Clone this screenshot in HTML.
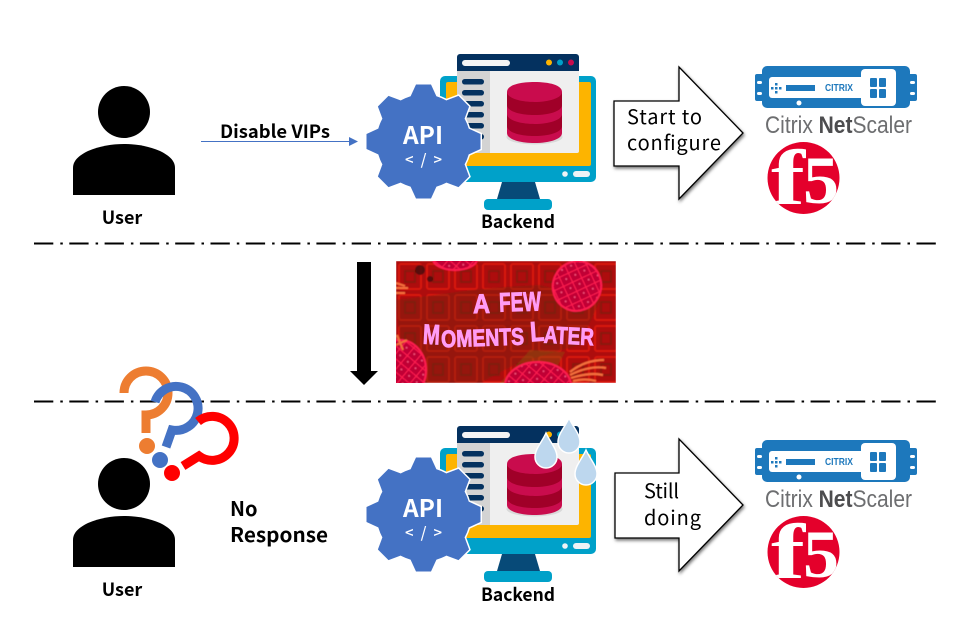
<!DOCTYPE html>
<html><head><meta charset="utf-8"><style>
html,body{margin:0;padding:0;background:#fff}
svg{display:block}
text{font-family:"Noto Sans CJK KR","Liberation Sans",sans-serif}
.b{font-weight:700;font-size:18px;fill:#000}
.n{font-size:20px;fill:#000}
.p{font-family:"Liberation Sans",sans-serif;font-weight:700;fill:#ff9cf5;stroke:#ff9cf5;stroke-width:.9}
</style></head><body>
<svg width="980" height="634" viewBox="0 0 980 634" xmlns="http://www.w3.org/2000/svg">
<defs>
<filter id="sh" x="-20%" y="-20%" width="140%" height="140%"><feDropShadow dx="1" dy="2" stdDeviation="1.5" flood-color="#000" flood-opacity=".55"/></filter>
<filter id="bl" x="-5%" y="-5%" width="110%" height="110%"><feGaussianBlur stdDeviation=".6"/></filter>
<clipPath id="ic"><rect x="396" y="261" width="220" height="122"/></clipPath>
<clipPath id="c1"><circle cx="803.500" cy="178" r="36"/></clipPath>
<clipPath id="c2"><circle cx="803.500" cy="552" r="36"/></clipPath>
<pattern id="pg" width="10" height="10" patternUnits="userSpaceOnUse" patternTransform="rotate(40)"><rect width="10" height="10" fill="#c00035"/><path d="M0 0H10M0 0V10" stroke="#ff1f50" stroke-width="2.200"/><circle cx="5" cy="5" r=".9" fill="#ff5f8c"/></pattern>
<pattern id="tile" width="28" height="31" patternUnits="userSpaceOnUse" x="396" y="261"><rect width="28" height="31" fill="#ad0c0a"/><rect x="3" y="3" width="22" height="25" rx="2" fill="none" stroke="#d81410" stroke-width="2"/><rect x="9" y="10" width="10" height="11" fill="none" stroke="#8a1208" stroke-width="2"/></pattern>
<g id="tooth"><path d="M-13 -45 L-7.500 -57 H7.500 L13 -45Z"/></g>
<g id="gearshape">
<circle r="47"/>
<use href="#tooth"/><use href="#tooth" transform="rotate(45)"/><use href="#tooth" transform="rotate(90)"/><use href="#tooth" transform="rotate(135)"/><use href="#tooth" transform="rotate(180)"/><use href="#tooth" transform="rotate(225)"/><use href="#tooth" transform="rotate(270)"/><use href="#tooth" transform="rotate(315)"/>
</g>
<g id="user">
<circle cx="124" cy="112" r="26"/>
<path d="M73 195V168C73 160 80 155 88 151C100 146 112 144 124 144C136 144 148 146 160 151C168 155 175 160 175 168V195Z"/>
</g>
<g id="monitor">
<rect x="440" y="76" width="156" height="106" rx="5" fill="#00a1c9"/>
<rect x="446" y="82" width="145" height="84" rx="2" fill="#fdb400"/>
<path d="M502 182H535L540 199H497Z" fill="#074a78"/>
<rect x="484" y="199" width="68" height="11" rx="4" fill="#00a1c9"/>
<circle cx="565" cy="174" r="2.800" fill="#eef3f6"/><rect x="573" y="171" width="17" height="6" rx="3" fill="#eef3f6"/>
<rect x="457" y="56" width="122" height="97" rx="2" fill="#efefef"/>
<rect x="457" y="71" width="33" height="82" fill="#d3d3d3"/>
<path d="M457 71V57a3 3 0 0 1 3-3H576a3 3 0 0 1 3 3V71Z" fill="#04315f"/>
<rect x="462" y="60" width="48" height="6" rx="3" fill="#f4f4f4"/>
<circle cx="549" cy="62.500" r="3" fill="#fdb400"/><circle cx="560" cy="62.500" r="3" fill="#00a1c9"/><circle cx="571" cy="62.500" r="3" fill="#c90c4d"/>
<g fill="#04315f"><rect x="462" y="79" width="22" height="5.500" rx="2.700"/><rect x="462" y="90" width="22" height="5.500" rx="2.700"/><rect x="462" y="101" width="22" height="5.500" rx="2.700"/><rect x="462" y="112" width="22" height="5.500" rx="2.700"/><rect x="462" y="123" width="22" height="5.500" rx="2.700"/><rect x="462" y="134" width="22" height="5.500" rx="2.700"/></g>
<ellipse cx="534.500" cy="137" rx="28" ry="7.500" fill="#d9d9d9"/>
<path d="M507 92C507 85 520 82 534.500 82S562 85 562 92V133C562 139 550 143 534.500 143S507 139 507 133Z" fill="#c90c4d"/>
<path d="M507 92C507 98 520 102 534.500 102S562 98 562 92V105C562 111 550 115 534.500 115S507 111 507 105Z" fill="#a00028"/>
<path d="M507 114C507 120 520 124 534.500 124S562 120 562 114V126C562 132 550 136 534.500 136S507 132 507 126Z" fill="#a00028"/>
</g>
<g id="nsbar">
<path d="M767 66H905a5 5 0 0 1 5 5v3h5a2 2 0 0 1 2 2V99a2 2 0 0 1-2 2h-5v2a5 5 0 0 1-5 5H767a5 5 0 0 1-5-5v-2h-5a2 2 0 0 1-2-2V76a2 2 0 0 1 2-2h5v-3a5 5 0 0 1 5-5Z" fill="#1d78bc"/>
<rect x="757" y="81" width="5" height="3" rx="1.500" fill="#fff"/><rect x="757" y="92" width="5" height="3" rx="1.500" fill="#fff"/><rect x="910" y="81" width="5" height="3" rx="1.500" fill="#fff"/><rect x="910" y="92" width="5" height="3" rx="1.500" fill="#fff"/>
<rect x="769" y="77" width="100" height="21" rx="3" fill="#fff"/>
<rect x="861" y="69" width="35" height="37" rx="4" fill="#fff"/>
<rect x="786" y="85" width="29" height="6" fill="#1d78bc"/>
<g fill="#1d78bc"><rect x="771" y="87" width="2.500" height="2.500"/><rect x="775" y="87" width="2.500" height="2.500"/><rect x="779" y="87" width="2.500" height="2.500"/><rect x="775" y="83" width="2.500" height="2.500"/><rect x="775" y="91" width="2.500" height="2.500"/></g>
<rect x="870" y="78" width="7" height="9" rx="1" fill="#1d78bc"/><rect x="879" y="78" width="7" height="9" rx="1" fill="#1d78bc"/><rect x="870" y="89" width="7" height="9" rx="1" fill="#1d78bc"/><rect x="879" y="89" width="7" height="9" rx="1" fill="#1d78bc"/>
<circle cx="799" cy="103" r="2.500" fill="#fff"/>
</g>
</defs>

<!-- separators -->
<g stroke="#000" stroke-width="2" fill="none" stroke-dasharray="19.300 7 2.500 6.500">
<line x1="34" y1="243.500" x2="936" y2="243.500"/>
<line x1="34" y1="401.500" x2="936" y2="401.500"/>
</g>

<!-- top row -->
<use href="#user" fill="#000"/>
<text class="b" x="122" y="224" text-anchor="middle">User</text>
<line x1="201" y1="141.500" x2="350" y2="141.500" stroke="#4472c4" stroke-width="1"/>
<path d="M349 137L358 141.500L349 146Z" fill="#4472c4"/>
<text class="b" x="220" y="138" textLength="110" lengthAdjust="spacingAndGlyphs">Disable VIPs</text>
<use href="#monitor"/>
<text class="b" x="481" y="228" textLength="74" lengthAdjust="spacingAndGlyphs">Backend</text>
<g transform="translate(423.500 141.500)"><use href="#gearshape" fill="#fff" stroke="#fff" stroke-width="3"/><use href="#gearshape" fill="#4472c4"/></g>
<text x="403" y="144" textLength="40" lengthAdjust="spacingAndGlyphs" style="font-size:24px;font-weight:700" fill="#fff">API</text>
<text x="405" y="165" textLength="37" style="font-size:15px;font-weight:500" fill="#fff">&lt; / &gt;</text>
<path d="M614 101H679V67L743 133L679 199V166H614Z" fill="#fff" stroke="#000" stroke-width="1.300" filter="url(#sh)"/>
<text class="n" x="627" y="124" textLength="75">Start to</text>
<text class="n" x="627" y="150" textLength="94">configure</text>
<use href="#nsbar"/>
<text x="825" y="91" textLength="28" lengthAdjust="spacingAndGlyphs" style="font-family:'Liberation Sans',sans-serif;font-size:10px;font-weight:700" fill="#1d78bc">CITRIX</text>
<text x="765" y="133" textLength="147" lengthAdjust="spacingAndGlyphs" style="font-family:'Liberation Sans',sans-serif;font-size:24px" fill="#6d6e70">Citrix <tspan font-weight="700" fill="#4d4d4f">Net</tspan>Scaler</text>
<circle cx="803.500" cy="178" r="36" fill="#e4002b"/>
<g clip-path="url(#c1)" style="font-weight:700" fill="#fff">
<text x="771" y="204" textLength="34" lengthAdjust="spacingAndGlyphs" style="font-family:'Liberation Serif',serif;font-size:78px">f</text>
<text x="803" y="203" textLength="36" lengthAdjust="spacingAndGlyphs" style="font-family:'Liberation Serif',serif;font-size:68px">5</text>
</g>

<!-- middle -->
<path d="M357 262H371V371H378L364 385L350 371H357Z" fill="#000"/>
<g clip-path="url(#ic)">
<g filter="url(#bl)">
<rect x="396" y="261" width="220" height="122" fill="url(#tile)"/>
<path d="M396 300C440 295 470 288 540 285L600 300L580 345L520 362L480 383H425L400 340Z" fill="#6e2c06" opacity=".35"/>
<path d="M530 350L565 352L548 383H500Z" fill="#8a5a08" opacity=".4"/>
<circle cx="420" cy="270" r="5" fill="#400806" opacity=".8"/><circle cx="430" cy="279" r="3" fill="#400806" opacity=".8"/>
<ellipse cx="455" cy="259" rx="22" ry="11" fill="url(#pg)" stroke="#ff1f50" stroke-width="2"/>
<ellipse cx="577" cy="286" rx="24" ry="25" fill="url(#pg)" stroke="#ff1f50" stroke-width="2" transform="rotate(25 577 286)"/>
<ellipse cx="400" cy="370" rx="26" ry="30" fill="url(#pg)" stroke="#ff1f50" stroke-width="2"/>
<ellipse cx="538" cy="386" rx="33" ry="24" fill="url(#pg)" stroke="#ff1f50" stroke-width="2"/>
<g stroke="#f5703c" stroke-width="2.200" fill="none"><path d="M570 372Q585 360 604 360"/><path d="M570 375Q590 365 606 368"/><path d="M571 378Q590 372 603 375"/><path d="M573 381Q585 378 596 381"/></g>
<g stroke="#f5703c" stroke-width="2" fill="none"><path d="M396 288H408"/><path d="M396 293H405"/><path d="M396 283L405 286"/><path d="M397 335L403 350"/><path d="M396 345L407 340"/></g>
</g>
<text class="p" x="473" y="313" textLength="17" lengthAdjust="spacingAndGlyphs" style="font-size:27px" transform="rotate(-1 481 303)">A</text>
<text class="p" x="499" y="311" textLength="42" lengthAdjust="spacingAndGlyphs" style="font-size:27px" transform="rotate(-2 522 301)">FEW</text>
<text class="p" x="423" y="344" textLength="17" lengthAdjust="spacingAndGlyphs" style="font-size:28px" transform="rotate(3 431 334)">M</text>
<text class="p" x="441" y="346" textLength="83" lengthAdjust="spacingAndGlyphs" style="font-size:24px" transform="rotate(-2 482 336)">OMENTS</text>
<text class="p" x="530" y="341" textLength="14" lengthAdjust="spacingAndGlyphs" style="font-size:28px" transform="rotate(-4 537 331)">L</text>
<text class="p" x="544" y="344" textLength="50" lengthAdjust="spacingAndGlyphs" style="font-size:24px" transform="rotate(3 569 334)">ATER</text>
</g>

<!-- bottom row -->
<g fill="none" stroke-width="9">
<path d="M124 393A22 22 0 1 1 146 415V433" stroke="#ed7d31"/>
<path d="M155 402A22 22 0 1 1 172 430L166 447" stroke="#4472c4"/>
<path d="M198 421.500A22 22 0 1 1 199 456L183 466" stroke="#ff0000"/>
</g>
<circle cx="147" cy="446" r="8" fill="#ed7d31"/>
<circle cx="160" cy="460" r="8" fill="#4472c4"/>
<circle cx="172" cy="473" r="8" fill="#ff0000"/>
<use href="#user" y="372" fill="#000"/>
<text class="b" x="122" y="596" text-anchor="middle">User</text>
<text x="230" y="516" style="font-size:20px;font-weight:700" fill="#000">No</text>
<text x="230" y="542" textLength="98" lengthAdjust="spacingAndGlyphs" style="font-size:20px;font-weight:700" fill="#000">Response</text>
<use href="#monitor" y="372"/>
<text class="b" x="481" y="601" textLength="74" lengthAdjust="spacingAndGlyphs">Backend</text>
<g transform="translate(423.500 514.500)"><use href="#gearshape" fill="#fff" stroke="#fff" stroke-width="3"/><use href="#gearshape" fill="#4472c4"/></g>
<text x="403" y="517" textLength="40" lengthAdjust="spacingAndGlyphs" style="font-size:24px;font-weight:700" fill="#fff">API</text>
<text x="405" y="538" textLength="37" style="font-size:15px;font-weight:500" fill="#fff">&lt; / &gt;</text>
<g fill="#bdd7ee" stroke="#fff" stroke-width="1.500">
<path d="M546 433C550 442 557 449 557 457A11 11 0 0 1 535 457C535 449 542 442 546 433Z"/>
<path d="M569 418C573 427 580 434 580 442A11 11 0 0 1 558 442C558 434 565 427 569 418Z"/>
<path d="M586 450C590 459 597 466 597 474A11 11 0 0 1 575 474C575 466 582 459 586 450Z"/>
</g>
<path d="M615 473H679V439L743 505L679 571V538H615Z" fill="#fff" stroke="#000" stroke-width="1.300" filter="url(#sh)"/>
<text class="n" x="644" y="498" textLength="35">Still</text>
<text class="n" x="644" y="525" textLength="57">doing</text>
<use href="#nsbar" y="374"/>
<text x="825" y="465" textLength="28" lengthAdjust="spacingAndGlyphs" style="font-family:'Liberation Sans',sans-serif;font-size:10px;font-weight:700" fill="#1d78bc">CITRIX</text>
<text x="765" y="507" textLength="147" lengthAdjust="spacingAndGlyphs" style="font-family:'Liberation Sans',sans-serif;font-size:24px" fill="#6d6e70">Citrix <tspan font-weight="700" fill="#4d4d4f">Net</tspan>Scaler</text>
<circle cx="803.500" cy="552" r="36" fill="#e4002b"/>
<g clip-path="url(#c2)" style="font-weight:700" fill="#fff">
<text x="771" y="578" textLength="34" lengthAdjust="spacingAndGlyphs" style="font-family:'Liberation Serif',serif;font-size:78px">f</text>
<text x="803" y="577" textLength="36" lengthAdjust="spacingAndGlyphs" style="font-family:'Liberation Serif',serif;font-size:68px">5</text>
</g>
</svg>
</body></html>
